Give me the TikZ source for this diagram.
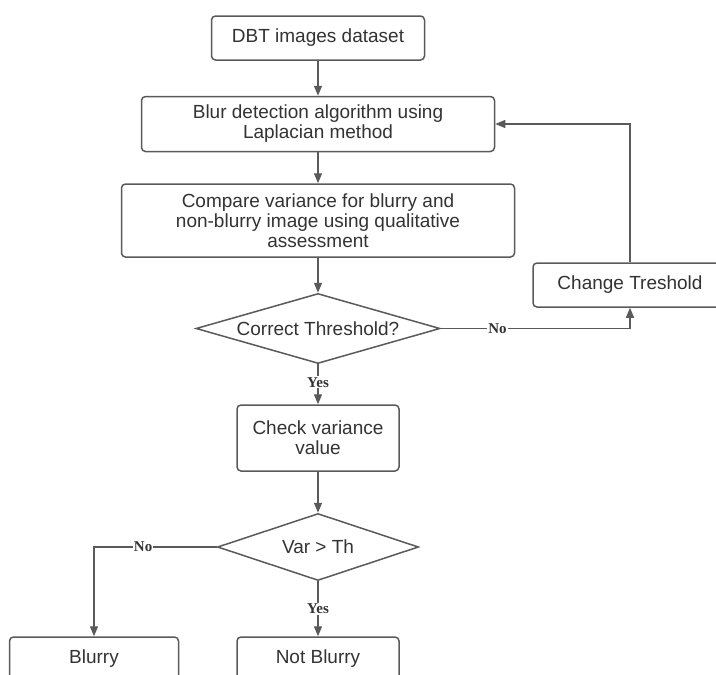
\documentclass[tikz,border=0pt]{standalone}
\usepackage{fontspec}
\setmainfont{Liberation Sans}
\newfontfamily\answerfont{Liberation Serif}
\usepackage{xcolor}
\usetikzlibrary{arrows.meta, positioning, shapes.geometric}

\definecolor{linegray}{HTML}{5A5A5A}
\definecolor{textgray}{HTML}{333333}

\begin{document}
\begin{tikzpicture}[
    node distance=35pt and 57pt,
    greybox/.style={
        rectangle,
        rounded corners=4pt,
        draw=linegray,
        fill=white,
        line width=1.5pt,
        align=center,
        inner sep=2pt,
        font=\fontsize{19}{20}\selectfont,
        text=textgray
    },
    decision/.style={
        diamond,
        draw=linegray,
        fill=white,
        line width=1.5pt,
        align=center,
        inner sep=0pt,
        font=\fontsize{19}{20}\selectfont,
        text=textgray
    },
    arrow/.style={
        -{Triangle[length=10pt,width=8pt]},
        line width=1.3pt,
        draw=linegray
    },
    answer/.style={
        fill=white,
        inner sep=1pt,
        font=\answerfont\bfseries\fontsize{15}{15}\selectfont,
        text=textgray
    }
]

\useasboundingbox (0pt,0pt) rectangle (716pt,-675pt);

% Main flow
\node[greybox, minimum width=213pt, minimum height=44pt] (dataset) at (318pt,-38pt) {DBT images dataset};

\node[greybox, minimum width=353pt, minimum height=55pt, below=35pt of dataset] (blurdetect) {Blur detection algorithm using\\Laplacian method};

\node[greybox, minimum width=393pt, minimum height=73pt, below=31pt of blurdetect] (compare) {Compare variance for blurry and\\non-blurry image using qualitative\\assessment};

\node[decision, shape aspect=3.5, minimum width=244pt, minimum height=70pt, below=35pt of compare] (threshold) {Correct Threshold?};

\node[greybox, minimum width=162pt, minimum height=66pt, below=40pt of threshold] (checkvar) {Check variance\\value};

\node[decision, shape aspect=3, minimum width=201pt, minimum height=67pt, below=41pt of checkvar] (vartest) {Var > Th};

\node[greybox, minimum width=162pt, minimum height=44pt, below=55pt of vartest] (notblurry) {Not Blurry};

\node[greybox, minimum width=169pt, minimum height=44pt, left=of notblurry] (blurry) {Blurry};

% Feedback loop
\node[greybox, minimum width=194pt, minimum height=44pt] (changeth) at (630pt,-285pt) {Change Treshold};

% Main arrows
\draw[arrow] (dataset) -- (blurdetect);
\draw[arrow] (blurdetect) -- (compare);
\draw[arrow] (compare) -- (threshold);
\draw[arrow] (threshold) -- node[answer, pos=0.45] {Yes} (checkvar);
\draw[arrow] (checkvar) -- (vartest);
\draw[arrow] (vartest) -- node[answer, pos=0.5] {Yes} (notblurry);

% Decision arrows
\draw[arrow] (threshold.east) -| node[answer, pos=0.15] {No} (changeth.south);
\draw[arrow] (changeth.north) |- (blurdetect.east);
\draw[arrow] (vartest.west) -| node[answer, pos=0.3] {No} (blurry.north);

\end{tikzpicture}
\end{document}
